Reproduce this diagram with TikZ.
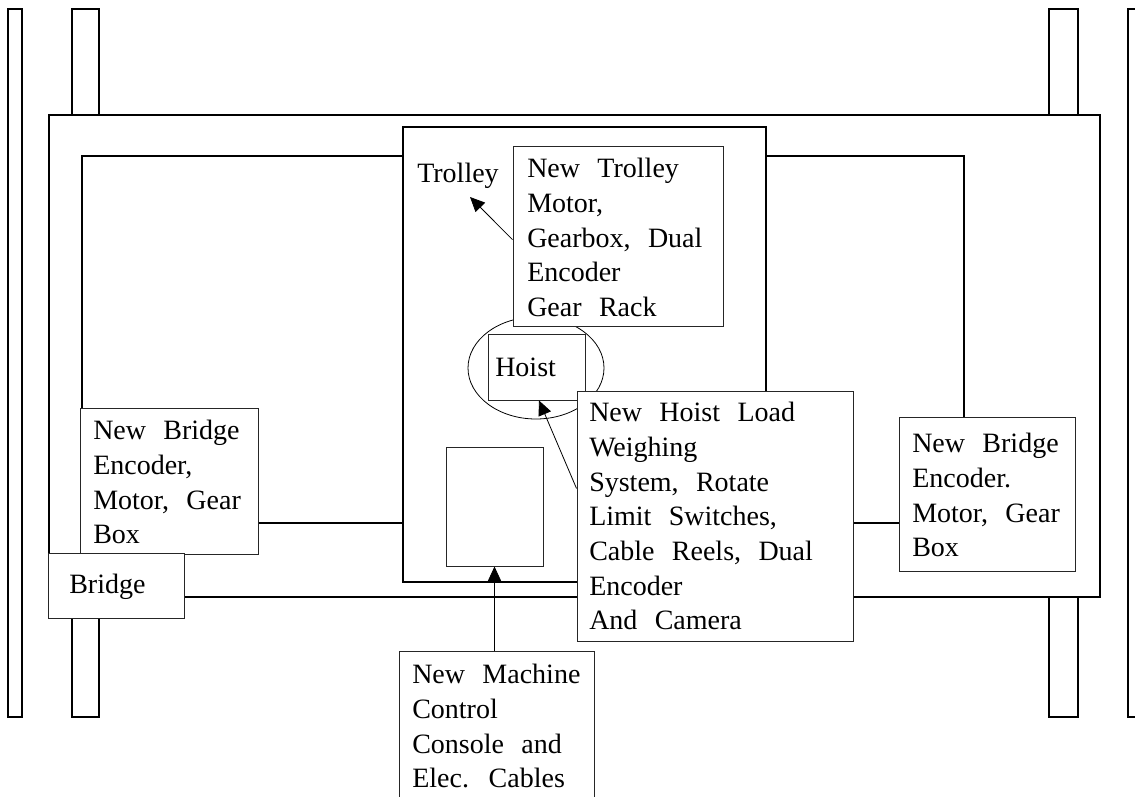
\documentclass[tikz,border=0pt]{standalone}
\usepackage{fontspec}
\setmainfont{Liberation Serif}
\usetikzlibrary{arrows.meta,fit,shapes.geometric,calc}
\newcommand\wsp{\spaceskip=.62em plus .1em\relax}
\begin{document}
\begin{tikzpicture}[x=0.75pt,y=-0.75pt,
  frame/.style={line width=1.1pt, draw=black},
  rail/.style={line width=1pt, draw=black},
  box/.style={draw=black!85, line width=0.75pt, fill=white, inner sep=0pt, rectangle},
  txt/.style={anchor=base west, inner sep=0pt, align=left, text=black,
    font=\fontsize{21pt}{26pt}\selectfont},
  arr/.style={line width=0.6pt, -{Triangle[length=11pt,width=10pt]}},
]
\useasboundingbox (0,0) rectangle (1135,796);
\clip (0,0) rectangle (1135,796);
% rails
\draw[rail] (8,9) rectangle (22,717);
\draw[rail] (72,9) rectangle (99,717);
\draw[rail] (1049,9) rectangle (1078,717);
\draw[rail] (1128,9) rectangle (1142,717);
% bridge frame
\draw[frame, fill=white] (49,115) rectangle (1100,597);
\draw[frame] (82,156) rectangle (964,523);
% trolley frame
\draw[frame, fill=white] (403,127) rectangle (766,582);
% console
\node[box, fit={(446,447)(543,566)}] (cons) {};
% hoist zone
\node[ellipse, draw=black, line width=0.6pt, minimum width=102pt, minimum height=76.5pt, inner sep=0pt] (hz) at (536,368) {};
\node[box, fit={(488,334)(585,400)}] (hoist) {};
% label boxes
\node[box, fit={(513,146)(723,326)}] (ntr) {};
\node[box, fit={(577,391)(853,641)}] (nhl) {};
\node[box, fit={(80,408)(258,554)}] (nbl) {};
\node[box, fit={(899,417)(1075,571)}] (nbr) {};
\node[box, fit={(48,553)(184,618)}] (brg) {};
\node[box, fit={(399,651)(594,815)}] (mcb) {};
% texts
\tikzset{txt/.append style={anchor=north west}}
\node[txt] (trl) at (417,163) {Trolley};
\node[txt] (ntrt) at (527,158) {\wsp New Trolley\\\wsp Motor,\\\wsp Gearbox, Dual\\\wsp Encoder\\\wsp Gear Rack};
\node[txt] (hoistt) at (495,358) {Hoist};
\node[txt] (nhlt) at (589,402) {\wsp New Hoist Load\\\wsp Weighing\\\wsp System, Rotate\\\wsp Limit Switches,\\\wsp Cable Reels, Dual\\\wsp Encoder\\\wsp And Camera};
\node[txt] (nblt) at (93,420) {\wsp New Bridge\\\wsp Encoder,\\\wsp Motor, Gear\\\wsp Box};
\node[txt] (nbrt) at (912,433) {\wsp New Bridge\\\wsp Encoder.\\\wsp Motor, Gear\\\wsp Box};
\node[txt] (brgt) at (69,574) {Bridge};
\node[txt] (mcbt) at (412,664) {\wsp New Machine\\\wsp Control\\\wsp Console and\\\wsp Elec. Cables};
% arrows
\coordinate (trtip) at (470,197);
\draw[arr] ($(ntr.north west)!0.52!(ntr.south west)$) -- (trtip);
\draw[arr] ($(nhl.north west)!0.39!(nhl.south west)$) -- ($(hoist.south)+(2.5,0)$);
\draw[arr] (cons.south |- mcb.north) -- (cons.south);
\end{tikzpicture}
\end{document}
